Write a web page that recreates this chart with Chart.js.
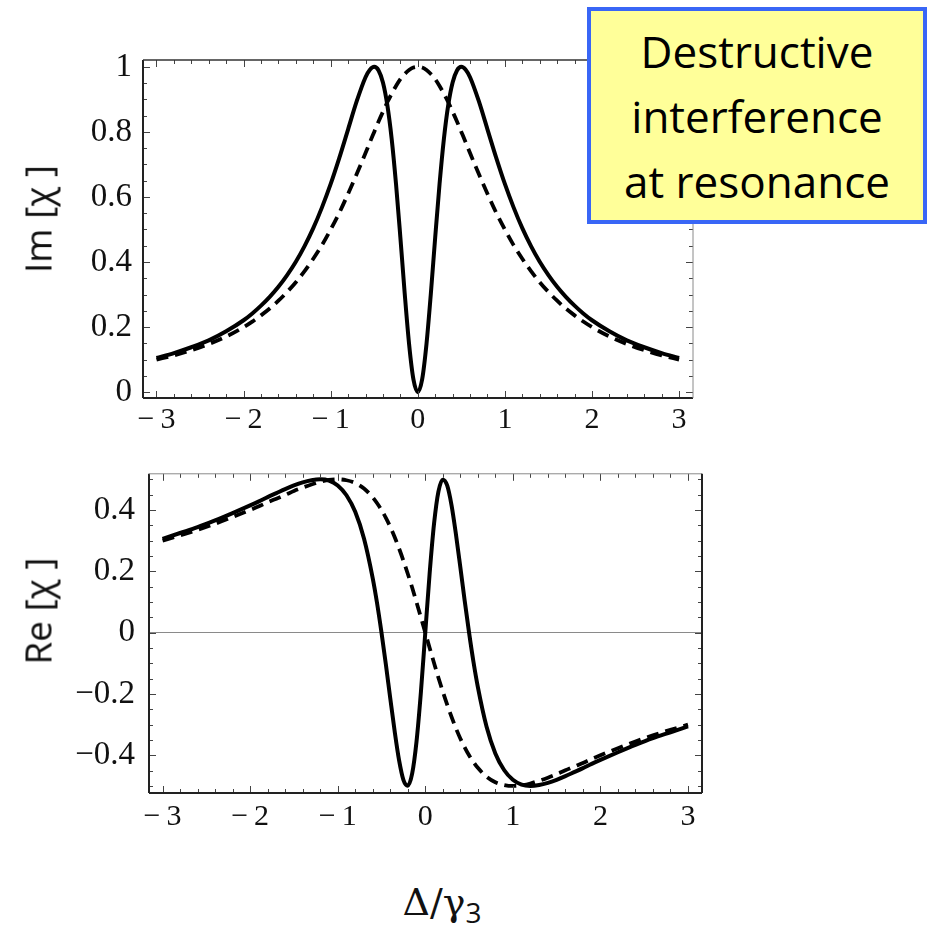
<!DOCTYPE html>
<html>
<head>
<meta charset="utf-8">
<script src="https://cdn.jsdelivr.net/npm/chart.js@4.4.1/dist/chart.umd.min.js"></script>
<style>
  body { margin: 0; width: 928px; height: 927px; background: #fff; position: relative; overflow: hidden; }
  canvas { position: absolute; left: 0; }
  #imChart { top: 0; }
  #reChart { top: 440px; }
  .ytitle { position: absolute; font-family: "Open Sans", sans-serif; font-size: 37px; color: #111;
            transform: translate(-50%, -50%) rotate(-90deg); white-space: pre; }
  .note { position: absolute; left: 587px; top: 7px; width: 332px; height: 201px; background: #ffff99;
          border: 4px solid #3966f6; font-family: "Open Sans", sans-serif; font-size: 44px; line-height: 65px;
          text-align: center; color: #000; padding-top: 8px; }
  .xtitle { position: absolute; left: 442px; top: 905px; transform: translate(-50%, -50%);
            font-family: "DejaVu Serif", serif; font-size: 38px; color: #111; white-space: nowrap; }
  .xtitle sub { font-family: "Open Sans", sans-serif; font-size: 28px; vertical-align: -8px; }
</style>
</head>
<body>
<canvas id="imChart" width="928" height="440"></canvas>
<canvas id="reChart" width="928" height="400"></canvas>
<div class="ytitle" style="left:37px; top:219px;">Im [χ ]</div>
<div class="ytitle" style="left:37px; top:611px;">Re [χ ]</div>
<div class="note">Destructive<br>interference<br>at resonance</div>
<div class="xtitle">Δ/γ<sub>3</sub></div>
<script>
// Desintonia normalizada (eixo x)
const deltaX = [-3, -2.8, -2.6, -2.4, -2.2, -2, -1.9, -1.8, -1.7, -1.6, -1.5, -1.4, -1.3, -1.2, -1.1, -1,
  -0.9, -0.8, -0.7, -0.6, -0.55, -0.5, -0.45, -0.4, -0.35, -0.3, -0.25, -0.2, -0.15, -0.1, -0.05, 0,
  0.05, 0.1, 0.15, 0.2, 0.25, 0.3, 0.35, 0.4, 0.45, 0.5, 0.55, 0.6, 0.7, 0.8, 0.9,
  1, 1.1, 1.2, 1.3, 1.4, 1.5, 1.6, 1.7, 1.8, 1.9, 2, 2.2, 2.4, 2.6, 2.8, 3];

// Im[chi] - curva cheia (com interferência) e tracejada
const imSolid = [0.105, 0.12, 0.138, 0.159, 0.187, 0.221, 0.242, 0.266, 0.293, 0.324, 0.36, 0.401, 0.449, 0.504, 0.568, 0.64,
  0.721, 0.808, 0.895, 0.968, 0.991, 1, 0.989, 0.952, 0.883, 0.779, 0.64, 0.476, 0.303, 0.148, 0.039, 0,
  0.039, 0.148, 0.303, 0.476, 0.64, 0.779, 0.883, 0.952, 0.989, 1, 0.991, 0.968, 0.895, 0.808, 0.721,
  0.64, 0.568, 0.504, 0.449, 0.401, 0.36, 0.324, 0.293, 0.266, 0.242, 0.221, 0.187, 0.159, 0.138, 0.12, 0.105];
const imDashed = [0.1, 0.113, 0.129, 0.148, 0.171, 0.2, 0.217, 0.236, 0.257, 0.281, 0.308, 0.338, 0.372, 0.41, 0.452, 0.5,
  0.552, 0.61, 0.671, 0.735, 0.768, 0.8, 0.832, 0.862, 0.891, 0.917, 0.941, 0.962, 0.978, 0.99, 0.998, 1,
  0.998, 0.99, 0.978, 0.962, 0.941, 0.917, 0.891, 0.862, 0.832, 0.8, 0.768, 0.735, 0.671, 0.61, 0.552,
  0.5, 0.452, 0.41, 0.372, 0.338, 0.308, 0.281, 0.257, 0.236, 0.217, 0.2, 0.171, 0.148, 0.129, 0.113, 0.1];

// Re[chi]
const reSolid = [0.306, 0.325, 0.344, 0.366, 0.39, 0.415, 0.428, 0.442, 0.455, 0.468, 0.48, 0.49, 0.497, 0.5, 0.496, 0.48,
  0.448, 0.394, 0.307, 0.177, 0.095, 0, -0.104, -0.214, -0.321, -0.415, -0.48, -0.499, -0.46, -0.355, -0.194, 0,
  0.194, 0.355, 0.46, 0.499, 0.48, 0.415, 0.321, 0.214, 0.104, 0, -0.095, -0.177, -0.307, -0.394, -0.448,
  -0.48, -0.496, -0.5, -0.497, -0.49, -0.48, -0.468, -0.455, -0.442, -0.428, -0.415, -0.39, -0.366, -0.344, -0.325, -0.306];
const reDashed = [0.3, 0.317, 0.335, 0.355, 0.377, 0.4, 0.412, 0.425, 0.437, 0.449, 0.462, 0.473, 0.483, 0.492, 0.498, 0.5,
  0.497, 0.488, 0.47, 0.441, 0.422, 0.4, 0.374, 0.345, 0.312, 0.275, 0.235, 0.192, 0.147, 0.099, 0.05, 0,
  -0.05, -0.099, -0.147, -0.192, -0.235, -0.275, -0.312, -0.345, -0.374, -0.4, -0.422, -0.441, -0.47, -0.488, -0.497,
  -0.5, -0.498, -0.492, -0.483, -0.473, -0.462, -0.449, -0.437, -0.425, -0.412, -0.4, -0.377, -0.355, -0.335, -0.317, -0.3];

// Rótulos dos eixos
const xTicks = [-3, -2, -1, 0, 1, 2, 3];
const imTicks = [0, 0.2, 0.4, 0.6, 0.8, 1];
const reTicks = [-0.4, -0.2, 0, 0.2, 0.4];

const serif = '"Liberation Serif", "Times New Roman", serif';
Chart.defaults.font.family = serif;
Chart.defaults.font.size = 32;
Chart.defaults.color = '#111';

const toPoints = (ys) => deltaX.map((x, i) => ({ x: x, y: ys[i] }));
const minus = (v, sep) => (v < 0 ? '\u2212' + sep + Math.abs(v) : String(v));

// Moldura com marcas internas nos quatro lados (estilo Mathematica)
const framePlugin = {
  id: 'frame',
  afterDraw(chart, args, o) {
    const { ctx, chartArea: a, scales: { x, y } } = chart;
    ctx.save();
    ctx.strokeStyle = '#444';
    ctx.lineWidth = 1;
    const tick = (x1, y1, x2, y2) => { ctx.beginPath(); ctx.moveTo(x1, y1); ctx.lineTo(x2, y2); ctx.stroke(); };
    for (let v = Math.ceil(x.min / 0.2) * 0.2; v <= x.max + 1e-9; v += 0.2) {
      const px = Math.round(x.getPixelForValue(v)) + 0.5;
      const major = Math.abs(v - Math.round(v)) < 1e-6;
      const len = major ? 7 : 4;
      tick(px, a.bottom, px, a.bottom - len);
      tick(px, a.top, px, a.top + len);
    }
    for (let v = Math.ceil(y.min / 0.05) * 0.05; v <= y.max + 1e-9; v += 0.05) {
      const py = Math.round(y.getPixelForValue(v)) + 0.5;
      const major = Math.abs(v / 0.2 - Math.round(v / 0.2)) < 1e-6;
      const len = major ? 7 : 4;
      tick(a.left, py, a.left + len, py);
      tick(a.right, py, a.right - len, py);
    }
    const side = (w, c, x1, y1, x2, y2) => { ctx.lineWidth = w; ctx.strokeStyle = c; tick(x1, y1, x2, y2); };
    side(o.left[0], o.left[1], a.left, a.top, a.left, a.bottom);
    side(o.bottom[0], o.bottom[1], a.left, a.bottom, a.right, a.bottom);
    side(o.top[0], o.top[1], a.left, a.top, a.right, a.top);
    side(o.right[0], o.right[1], a.right, a.top, a.right, a.bottom);
    ctx.restore();
  }
};

function makeChart(id, solid, dashed, yTicks, cfg) {
  return new Chart(document.getElementById(id), {
    type: 'line',
    data: {
      datasets: [
        { data: toPoints(solid), borderColor: '#000', borderWidth: 4, pointRadius: 0,
          cubicInterpolationMode: 'monotone', fill: false },
        { data: toPoints(dashed), borderColor: '#000', borderWidth: 3.8, borderDash: [12, 7], pointRadius: 0,
          cubicInterpolationMode: 'monotone', fill: false }
      ]
    },
    options: {
      responsive: false,
      animation: false,
      events: [],
      layout: { padding: cfg.padding },
      plugins: { legend: { display: false }, tooltip: { enabled: false }, frame: cfg.frame },
      scales: {
        x: {
          type: 'linear', min: -3.155, max: 3.16,
          afterBuildTicks: (s) => { s.ticks = xTicks.map(v => ({ value: v })); },
          afterFit: (s) => { s.height = cfg.xHeight; },
          grid: { display: false, drawTicks: false },
          border: { display: false },
          ticks: { font: { family: serif, size: 30 }, padding: cfg.xPad, maxRotation: 0, autoSkip: false,
                   callback: (v) => minus(v, '\u2009') }
        },
        y: {
          min: cfg.yMin, max: cfg.yMax,
          afterBuildTicks: (s) => { s.ticks = yTicks.map(v => ({ value: v })); },
          afterFit: (s) => { s.width = cfg.yWidth; },
          grid: { display: cfg.zeroLine, drawTicks: false, lineWidth: 1,
                  color: (c) => (c.tick && c.tick.value === 0 ? '#8a8a8a' : 'rgba(0,0,0,0)') },
          border: { display: false },
          ticks: { font: { family: serif, size: 33 }, padding: cfg.yPad, autoSkip: false,
                   callback: (v) => minus(v, '') }
        }
      }
    },
    plugins: [framePlugin]
  });
}

makeChart('imChart', imSolid, imDashed, imTicks, {
  padding: { left: 0, right: 235, top: 60, bottom: 0 },
  xHeight: 42, yWidth: 143, xPad: 4, yPad: 11,
  yMin: -0.018, yMax: 1.021, zeroLine: false,
  frame: { left: [2, '#222'], bottom: [2, '#222'], top: [1.5, '#333'], right: [1, '#8a8a8a'] }
});

makeChart('reChart', reSolid, reDashed, reTicks, {
  padding: { left: 0, right: 226, top: 15, bottom: 0 },
  xHeight: 47, yWidth: 149, xPad: 6, yPad: 14,
  yMin: -0.523, yMax: 0.518, zeroLine: true,
  frame: { left: [2, '#222'], bottom: [2, '#222'], top: [1, '#8a8a8a'], right: [2, '#222'] }
});
</script>
</body>
</html>
